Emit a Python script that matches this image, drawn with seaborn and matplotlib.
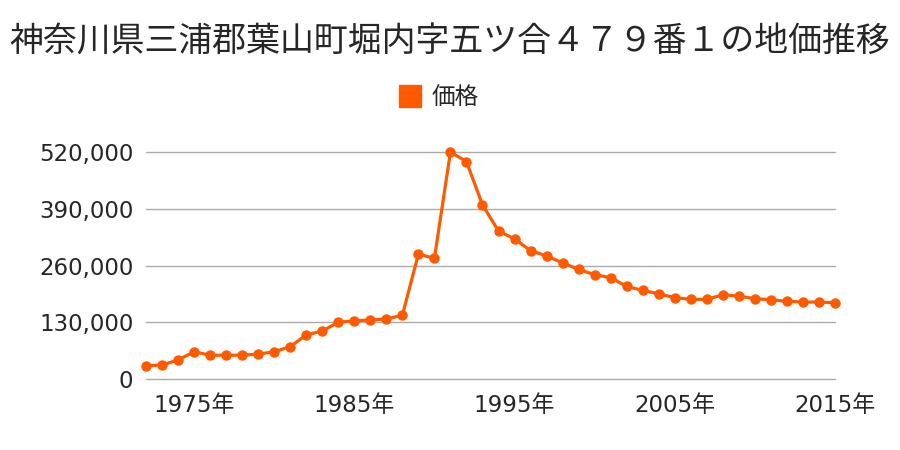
import matplotlib
matplotlib.use("Agg")
import matplotlib.pyplot as plt
from matplotlib.lines import Line2D
import seaborn as sns
import pandas as pd

years = list(range(1972, 2016))
prices = [30500, 32000, 43500, 62500, 54500, 54500, 54500, 57000, 62500, 74000,
          101000, 110000, 130000, 133000, 135500, 137500, 146000, 286000, 276500,
          520000, 498000, 399000, 339000, 321000, 294000, 282000, 266000, 251000,
          239000, 232000, 212000, 203000, 195000, 186500, 182500, 182500, 193000,
          190000, 184000, 181500, 178000, 176500, 176000, 175000]
yticks = [0, 130000, 260000, 390000, 520000]
xticks = [1975, 1985, 1995, 2005, 2015]
title = "神奈川県三浦郡葉山町堀内字五ツ合４７９番１の地価推移"
series_name = "価格"

sns.set_style("white")
plt.rcParams['font.family'] = ['Noto Sans CJK JP', 'DejaVu Sans']
tick_family = ['DejaVu Sans', 'Noto Sans CJK JP']

color = "#FF5A00"
df = pd.DataFrame({"year": years, "price": prices})

fig = plt.figure(figsize=(9, 4.5), dpi=100)
ax = fig.add_axes([146/900, 1-379/450, (835-146)/900, (379-152)/450])

sns.lineplot(data=df, x="year", y="price", ax=ax, color=color, linewidth=2.3,
             marker="o", markersize=7.5, markeredgewidth=0, clip_on=False, zorder=5)

ax.set_xlim(1972, 2015)
ax.set_ylim(0, 520000)
ax.set_yticks(yticks)
ax.set_yticklabels([f"{v:,}" for v in yticks], fontsize=16.5, family=tick_family)
ax.set_xticks(xticks)
ax.set_xticklabels([f"{v}年" for v in xticks], fontsize=16.5, family=tick_family)
ax.tick_params(axis="both", length=0)
ax.tick_params(axis="y", pad=9)
ax.tick_params(axis="x", pad=11)
ax.grid(axis="y", color="#aaaaaa", linewidth=1)
ax.grid(axis="x", visible=False)
for gl in ax.get_ygridlines():
    gl.set_clip_on(False)
for s in ax.spines.values():
    s.set_visible(False)
ax.set_xlabel("")
ax.set_ylabel("")

fig.text(0.5, 1-42/450, title, ha="center", va="center", fontsize=24.4)

handle = Line2D([], [], color=color, marker="s", linestyle="none", markersize=16.5)
fig.legend([handle], [series_name], loc="center", bbox_to_anchor=(438.5/900, 1-98/450),
           frameon=False, fontsize=17, handletextpad=0.4, handlelength=1.0)

fig.savefig("out.png", dpi=100)
